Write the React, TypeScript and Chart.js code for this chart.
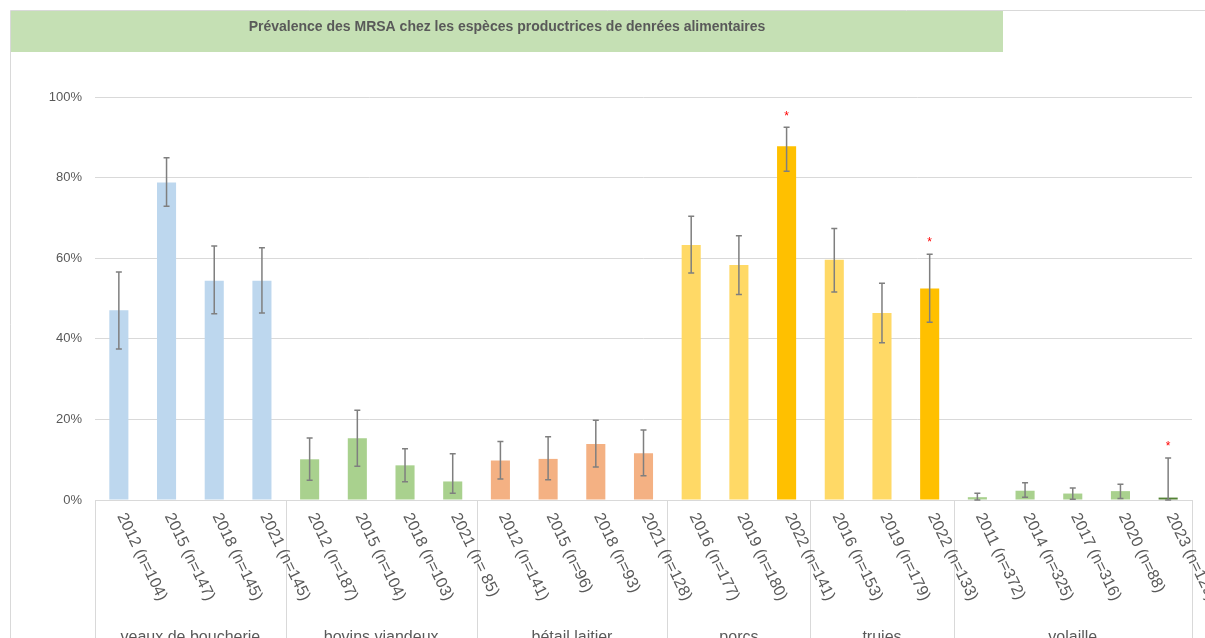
import React, { useEffect, useRef } from "react";
import { Chart, registerables } from "chart.js";

Chart.register(...registerables);

const chartTitle = "Prévalence des MRSA chez les espèces productrices de denrées alimentaires";
const groups = ["veaux de boucherie", "bovins viandeux", "bétail laitier", "porcs", "truies", "volaille"];
const groupSizes = [4, 4, 4, 3, 3, 5];
const tickLabels = [
  "2012 (n=104)", "2015 (n=147)", "2018 (n=145)", "2021 (n=145)",
  "2012 (n=187)", "2015 (n=104)", "2018 (n=103)", "2021 (n= 85)",
  "2012 (n=141)", "2015 (n=96)", "2018 (n=93)", "2021 (n=128)",
  "2016 (n=177)", "2019 (n=180)", "2022 (n=141)",
  "2016 (n=153)", "2019 (n=179)", "2022 (n=133)",
  "2011 (n=372)", "2014 (n=325)", "2017 (n=316)", "2020 (n=88)", "2023 (n=129)",
];
const prevalence = [47.1, 78.8, 54.4, 54.4, 10.1, 15.3, 8.6, 4.6, 9.8, 10.2, 13.9, 11.6, 63.3, 58.3, 87.8, 59.6, 46.4, 52.5, 0.7, 2.3, 1.6, 2.2, 0.6];
const ciLow = [37.5, 72.9, 46.2, 46.4, 4.9, 8.4, 4.5, 1.7, 5.2, 5.0, 8.2, 6.0, 56.3, 51.0, 81.6, 51.6, 39.0, 44.1, 0, 0.7, 0.2, 0.4, 0];
const ciHigh = [56.6, 84.9, 63.0, 62.6, 15.4, 22.3, 12.7, 11.5, 14.5, 15.7, 19.8, 17.4, 70.4, 65.6, 92.5, 67.4, 53.8, 61.0, 1.7, 4.3, 3.0, 3.9, 10.4];
const significant = [false, false, false, false, false, false, false, false, false, false, false, false, false, false, true, false, false, true, false, false, false, false, true];
const yTicks = [0, 20, 40, 60, 80, 100];

const groupColors = ["#BDD7EE", "#A9D18E", "#F4B183", "#FFD966", "#FFD966", "#A9D18E"];
const groupStrongColors = ["#9DC3E6", "#70AD47", "#ED7D31", "#FFC000", "#FFC000", "#548235"];

const FONT = "'Liberation Sans', Arial, sans-serif";
const TEXT = "#595959";
const LINE = "#D9D9D9";

function groupOfIndex(i: number): number {
  let acc = 0;
  for (let g = 0; g < groupSizes.length; g++) {
    acc += groupSizes[g];
    if (i < acc) return g;
  }
  return groupSizes.length - 1;
}

const barColors = prevalence.map((_, i) => (significant[i] ? groupStrongColors[groupOfIndex(i)] : groupColors[groupOfIndex(i)]));

const decorPlugin = {
  id: "decor",
  beforeDraw(chart: any) {
    const ctx = chart.ctx;
    ctx.save();
    ctx.fillStyle = "#fff";
    ctx.fillRect(0, 0, chart.width, chart.height);
    // frame
    ctx.strokeStyle = LINE;
    ctx.lineWidth = 1;
    ctx.beginPath();
    ctx.moveTo(10.5, chart.height);
    ctx.lineTo(10.5, 10.5);
    ctx.lineTo(chart.width, 10.5);
    ctx.stroke();
    // title box
    ctx.fillStyle = "#C5E0B4";
    ctx.fillRect(11, 11, 992, 41);
    ctx.fillStyle = TEXT;
    ctx.font = `bold 14px ${FONT}`;
    ctx.textAlign = "center";
    ctx.textBaseline = "middle";
    ctx.fillText(chartTitle, 507, 27);
    ctx.restore();
  },
  afterDraw(chart: any) {
    const ctx = chart.ctx;
    const xs = chart.scales.x;
    const ys = chart.scales.y;
    const area = chart.chartArea;
    const meta = chart.getDatasetMeta(0);
    ctx.save();
    // error bars
    ctx.strokeStyle = "#7F7F7F";
    ctx.lineWidth = 1.5;
    prevalence.forEach((_, i) => {
      const x = meta.data[i].x;
      const yl = ys.getPixelForValue(ciLow[i]);
      const yh = ys.getPixelForValue(ciHigh[i]);
      ctx.beginPath();
      ctx.moveTo(x, yl);
      ctx.lineTo(x, yh);
      ctx.moveTo(x - 3, yl);
      ctx.lineTo(x + 3, yl);
      ctx.moveTo(x - 3, yh);
      ctx.lineTo(x + 3, yh);
      ctx.stroke();
      if (significant[i]) {
        ctx.fillStyle = "#FF0000";
        ctx.font = `12px ${FONT}`;
        ctx.textAlign = "center";
        ctx.textBaseline = "middle";
        ctx.fillText("*", x, yh - 11);
      }
    });
    // separators
    const step = xs.getPixelForValue(1) - xs.getPixelForValue(0);
    ctx.strokeStyle = LINE;
    ctx.lineWidth = 1;
    let start = 0;
    const bounds: number[] = [];
    bounds.push(xs.getPixelForValue(0) - step / 2);
    groupSizes.forEach((n) => {
      start += n;
      bounds.push(xs.getPixelForValue(start - 1) + step / 2);
    });
    bounds.forEach((bx) => {
      const px = Math.round(bx) + 0.5;
      ctx.beginPath();
      ctx.moveTo(px, area.bottom);
      ctx.lineTo(px, chart.height);
      ctx.stroke();
    });
    // tick labels
    ctx.fillStyle = TEXT;
    ctx.font = `16px ${FONT}`;
    ctx.textAlign = "left";
    ctx.textBaseline = "middle";
    const ang = (64 * Math.PI) / 180;
    tickLabels.forEach((t, i) => {
      const x = xs.getPixelForValue(i);
      ctx.save();
      ctx.translate(x + 2, area.bottom + 14);
      ctx.rotate(ang);
      ctx.fillText(t, 0, 0);
      ctx.restore();
    });
    // group labels
    ctx.font = `16px ${FONT}`;
    ctx.textAlign = "center";
    ctx.textBaseline = "middle";
    groups.forEach((g, k) => {
      ctx.fillText(g, (bounds[k] + bounds[k + 1]) / 2, 638);
    });
    ctx.restore();
  },
};

export default function App() {
  const ref = useRef<HTMLCanvasElement | null>(null);
  useEffect(() => {
    if (!ref.current) return;
    const chart = new Chart(ref.current, {
      type: "bar",
      data: {
        labels: tickLabels,
        datasets: [
          {
            data: prevalence,
            backgroundColor: barColors,
            borderWidth: 0,
            barPercentage: 0.4,
            categoryPercentage: 1,
          },
        ],
      },
      options: {
        animation: false,
        responsive: false,
        events: [],
        layout: { padding: { top: 97, right: 13, left: 0, bottom: 0 } },
        plugins: { legend: { display: false }, title: { display: false }, tooltip: { enabled: false } },
        scales: {
          x: {
            grid: { display: false },
            border: { display: true, color: LINE, width: 1 },
            ticks: { display: false },
            afterFit: (s: any) => {
              s.height = 138;
            },
          },
          y: {
            min: 0,
            max: 100,
            afterBuildTicks: (s: any) => {
              s.ticks = yTicks.map((v) => ({ value: v }));
            },
            grid: { color: LINE, lineWidth: 1, drawTicks: false },
            border: { display: false },
            ticks: {
              padding: 13,
              color: TEXT,
              font: { family: FONT, size: 13 },
              callback: (v: any) => `${v}%`,
            },
            afterFit: (s: any) => {
              s.width = 95;
            },
          },
        },
      },
      plugins: [decorPlugin],
    });
    return () => chart.destroy();
  }, []);
  return (
    <div style={{ position: "absolute", left: 0, top: 0, width: 1205, height: 638, overflow: "hidden", background: "#fff" }}>
      <canvas ref={ref} width={1205} height={638} style={{ display: "block" }} />
    </div>
  );
}
